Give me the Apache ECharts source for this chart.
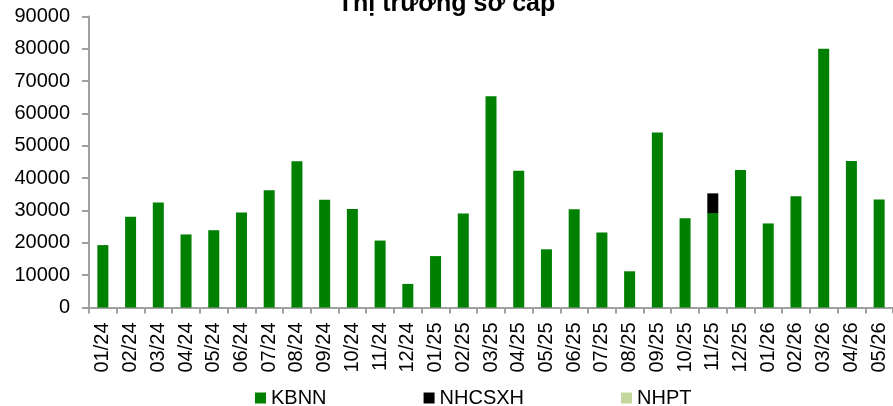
<!DOCTYPE html>
<html>
<head>
<meta charset="utf-8">
<script src="https://cdn.jsdelivr.net/npm/echarts@6/dist/echarts.min.js"></script>
<style>
html, body { margin: 0; padding: 0; background: #fff; }
#chart { width: 893px; height: 406px; }
</style>
</head>
<body>
<div id="chart"></div>
<script>
const months = ['01/24', '02/24', '03/24', '04/24', '05/24', '06/24', '07/24', '08/24', '09/24', '10/24', '11/24', '12/24',
    '01/25', '02/25', '03/25', '04/25', '05/25', '06/25', '07/25', '08/25', '09/25', '10/25', '11/25', '12/25',
    '01/26', '02/26', '03/26', '04/26', '05/26'];
const kbnn = [19300, 28100, 32500, 22600, 23900, 29400, 36300, 45200, 33300, 30500, 20700, 7300,
    15900, 29100, 65300, 42300, 18000, 30400, 23200, 11200, 54100, 27600, 29200, 42500,
    26000, 34400, 80000, 45300, 33400];
const nhcsxh = [0, 0, 0, 0, 0, 0, 0, 0, 0, 0, 0, 0,
    0, 0, 0, 0, 0, 0, 0, 0, 0, 0, 6100, 0,
    0, 0, 0, 0, 0];
const nhpt = [];
const yTicks = { min: 0, max: 90000, interval: 10000 };

const font = 'Liberation Sans, Arial, sans-serif';
const axisGray = '#a0a0a0';

function makeSeries(name, data, color) {
    return {
        name,
        type: 'bar',
        stack: 'total',
        data,
        barWidth: 11,
        itemStyle: { color },
        animation: false
    };
}

const chart = echarts.init(document.getElementById('chart'));
const option = {
    backgroundColor: '#fff',
    animation: false,
    title: {
        text: 'Thị trường sơ cấp',
        left: 'center',
        top: -8,
        padding: 0,
        textStyle: { fontFamily: font, fontSize: 25, fontWeight: 'bold', color: '#000' }
    },
    legend: {
        left: 255,
        top: 388,
        itemWidth: 11,
        itemHeight: 11,
        itemGap: 97,
        icon: 'rect',
        padding: 0,
        textStyle: { fontFamily: font, fontSize: 20, color: '#000' },
        data: ['KBNN', 'NHCSXH', 'NHPT']
    },
    grid: { left: 89, top: 16.5, width: 812, height: 291 },
    xAxis: {
        type: 'category',
        data: months,
        axisLine: { lineStyle: { color: axisGray, width: 2 } },
        axisTick: { show: true, length: 6, lineStyle: { color: axisGray, width: 2 } },
        axisLabel: { rotate: 90, margin: 15, fontFamily: font, fontSize: 20, color: '#000' }
    },
    yAxis: {
        type: 'value',
        min: yTicks.min,
        max: yTicks.max,
        interval: yTicks.interval,
        splitLine: { show: false },
        axisLine: { show: true, lineStyle: { color: axisGray, width: 2 } },
        axisTick: { show: true, length: 7, lineStyle: { color: axisGray, width: 2 } },
        axisLabel: {
            margin: 19, fontFamily: font, fontSize: 20, color: '#000',
            formatter: (v) => String(v)
        }
    },
    series: [
        makeSeries('KBNN', kbnn, '#008000'),
        makeSeries('NHCSXH', nhcsxh, '#000000'),
        makeSeries('NHPT', nhpt, '#c3d69b')
    ]
};
chart.setOption(option);
</script>
</body>
</html>
